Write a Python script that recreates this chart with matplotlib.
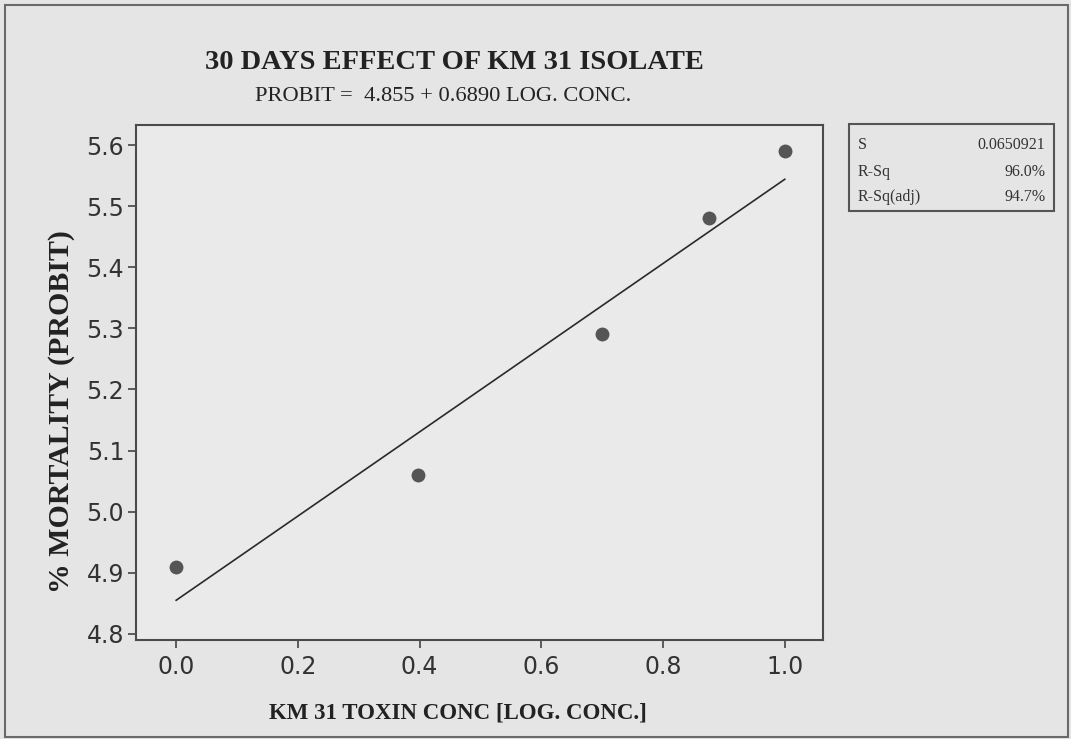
import matplotlib
matplotlib.use("Agg")
import matplotlib.pyplot as plt
from matplotlib.patches import Rectangle
import numpy as np

# probit regression data (log concentration vs probit mortality)
log_conc = [0.0, 0.398, 0.699, 0.875, 1.0]
probit = [4.91, 5.06, 5.29, 5.48, 5.59]
intercept = 4.855
slope = 0.6890
stat_names = ["S", "R-Sq", "R-Sq(adj)"]
stat_values = ["0.0650921", "96.0%", "94.7%"]
x_ticks = [0.0, 0.2, 0.4, 0.6, 0.8, 1.0]
y_ticks = [4.8, 4.9, 5.0, 5.1, 5.2, 5.3, 5.4, 5.5, 5.6]

serif = "Liberation Serif"
bg = "#e5e5e5"

fig = plt.figure(figsize=(10.71, 7.39), dpi=100, facecolor=bg)
ax = fig.add_axes([0.127, 0.134, 0.641, 0.697], facecolor="#eaeaea")

# fitted line and observations
xf = np.linspace(0.0, 1.0, 50)
ax.plot(xf, intercept + slope * xf, color="#2a2a2a", lw=1.2)
ax.plot(log_conc, probit, "o", color="#555555", markersize=10, markeredgewidth=0)

ax.set_xlim(-0.066, 1.062)
ax.set_ylim(4.790, 5.633)
ax.set_xticks(x_ticks)
ax.set_yticks(y_ticks)
ax.set_xticklabels(["%.1f" % v for v in x_ticks])
ax.set_yticklabels(["%.1f" % v for v in y_ticks])
ax.tick_params(direction="out", length=6, width=1.2, colors="#444444",
               labelsize=17, labelcolor="#333333")
ax.tick_params(axis="x", pad=5)
ax.tick_params(axis="y", pad=2.5)
for s in ax.spines.values():
    s.set_color("#4a4a4a")
    s.set_linewidth(1.5)

ax.set_ylabel("% MORTALITY (PROBIT)", fontfamily=serif, fontweight="bold",
              fontsize=21.5, color="#222222")
ax.yaxis.set_label_coords(-0.089, 0.443)

fig.text(0.424, 0.916, "30 DAYS EFFECT OF KM 31 ISOLATE", fontfamily=serif,
         fontweight="bold", fontsize=20.5, color="#222222", ha="center", va="center")
fig.text(0.4135, 0.870, "PROBIT =  4.855 + 0.6890 LOG. CONC.", fontfamily=serif,
         fontsize=16.2, color="#222222", ha="center", va="center")
fig.text(0.428, 0.035, "KM 31 TOXIN CONC [LOG. CONC.]", fontfamily=serif,
         fontweight="bold", fontsize=16.5, color="#222222", ha="center", va="center")

# summary statistics box
fig.patches.append(Rectangle((0.793, 0.714), 0.191, 0.118, transform=fig.transFigure,
                             fill=False, edgecolor="#555555", lw=1.5))
row_y = [0.804, 0.767, 0.733]
for name, val, yy in zip(stat_names, stat_values, row_y):
    fig.text(0.801, yy, name, fontfamily=serif, fontsize=11.5, color="#333333",
             ha="left", va="center")
    fig.text(0.976, yy, val, fontfamily=serif, fontsize=11.5, color="#333333",
             ha="right", va="center")

# outer frame of the scanned page
fig.patches.append(Rectangle((0.005, 0.003), 0.992, 0.99, transform=fig.transFigure,
                             fill=False, edgecolor="#6a6a6a", lw=1.5))

fig.savefig("out.png", dpi=100, facecolor=bg)
